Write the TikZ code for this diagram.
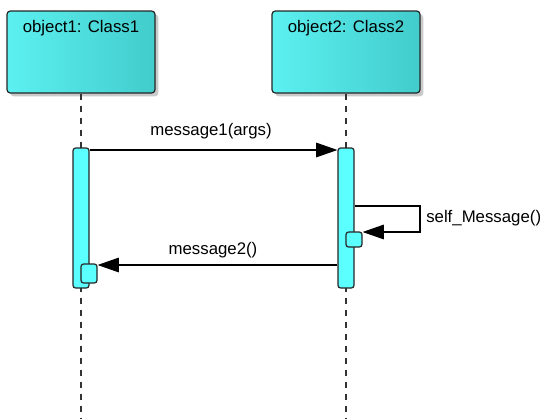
\documentclass[tikz,border=0pt]{standalone}
\usepackage{fontspec}
\setmainfont{Liberation Sans}
\usetikzlibrary{arrows.meta,shadows}
\definecolor{boxL}{RGB}{92,240,240}
\definecolor{boxM}{RGB}{102,255,255}
\definecolor{boxR}{RGB}{66,204,204}
\definecolor{actfill}{RGB}{92,255,255}
\begin{document}
\begin{tikzpicture}[x=0.75pt,y=-0.75pt,
  objbox/.style={draw=black!85,line width=0.9pt,rounded corners=2.5pt,minimum width=111pt,minimum height=61.5pt,
     left color=boxL,middle color=boxM,right color=boxR,inner sep=0pt,
     drop shadow={shadow xshift=2.5pt,shadow yshift=-2.5pt,fill=black!35,opacity=0.6}},
  objtext/.style={font=\fontsize{12.6}{14}\selectfont,anchor=north,inner sep=0pt},
  life/.style={draw=black!80,line width=0.8pt,dash pattern=on 4.5pt off 4.5pt},
  act/.style={draw=black!85,fill=actfill,line width=0.9pt,rounded corners=2pt,minimum width=12pt,inner sep=0pt},
  msg/.style={draw=black,line width=0.8pt,-{Triangle[length=16pt,width=11pt]}},
  lbl/.style={font=\fontsize{12.6}{14}\selectfont,inner sep=0pt}]
\useasboundingbox (0,0) rectangle (546,419);
% objects
\node[objbox] (o1) at (81,52) {};
\node[objbox] (o2) at (346,52) {};
\node[objtext] (t1) at (81,20) {object1: Class1};
\node[objtext] (t2) at (346,20) {object2: Class2};
% lifeline ends
\coordinate (e1) at (81,419);
\coordinate (e2) at (346,419);
\draw[life] (o1.south) -- (e1);
\draw[life] (o2.south) -- (e2);
% activations
\node[act,minimum height=105pt] (a1) at (81,218) {};
\node[act,minimum height=105pt] (a2) at (346,218) {};
\node[act,minimum height=14.25pt] (s1) at (89,273.5) {};
\node[act,minimum height=11.25pt] (s2) at (354,239.5) {};
% message 1
\draw[msg] (a1.east |- 0,150) -- (a2.west |- 0,150);
\node[lbl] (l1) at (211,131) {message1(args)};
% self message
\coordinate (c1) at (420,206);
\coordinate (c2) at (420,232);
\draw[msg] (a2.east |- c1) -- (c1) -- (c2) -- (s2.east |- c2);
\node[lbl,anchor=west] (l3) at (426,218) {self\_Message()};
% message 2
\draw[msg] (a2.west |- 0,265) -- (s1.east |- 0,265);
\node[lbl] (l2) at (213,250) {message2()};
\end{tikzpicture}
\end{document}
